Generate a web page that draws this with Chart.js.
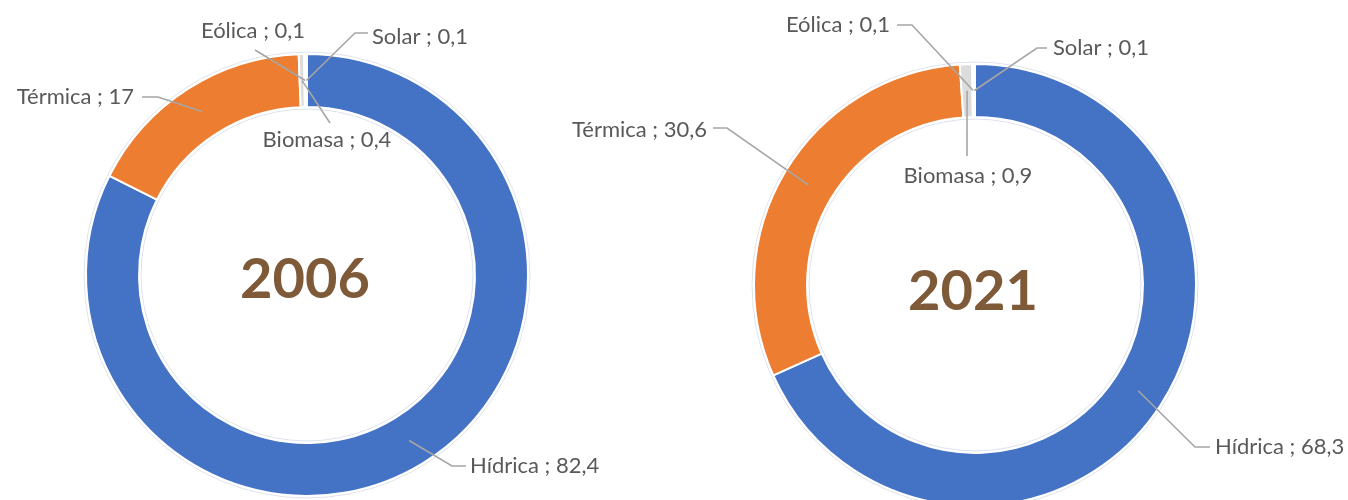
<!DOCTYPE html>
<html lang="es">
<head>
<meta charset="utf-8">
<title>Matriz eléctrica 2006 / 2021</title>
<script src="https://cdn.jsdelivr.net/npm/chart.js@4.4.1/dist/chart.umd.min.js"></script>
<style>
    html, body { margin: 0; padding: 0; background: #fff; overflow: hidden; }
    .wrap { position: relative; width: 1348px; height: 500px; }
    .wrap canvas { position: absolute; left: 0; top: 0; }
</style>
</head>
<body>
<div class="wrap">
    <canvas id="chart2006" width="1348" height="520"></canvas>
    <canvas id="chart2021" width="1348" height="520"></canvas>
</div>
<script>
// ==================== DATA ====================
const categories = ['Hídrica', 'Térmica', 'Biomasa', 'Eólica', 'Solar'];
const values2006 = [82.4, 17, 0.4, 0.1, 0.1];
const values2021 = [68.3, 30.6, 0.9, 0.1, 0.1];
const years = ['2006', '2021'];

const sliceColors = ['#4472C4', '#ED7D31', '#DCDCDC', '#A5A5A5', '#C8C8C8'];

// ==================== CALLOUT PLUGIN ====================
// Draws "Name ; value" labels with Excel-style leader lines that end
// in the middle of the ring at each slice's mid angle.
const fmt = v => String(v).replace('.', ',');

const calloutPlugin = {
    id: 'callouts',
    beforeDatasetsDraw(chart) {
        // faint halo around the ring edges
        const arc = chart.getDatasetMeta(0).data[0];
        if (!arc) return;
        const ctx = chart.ctx;
        ctx.save();
        ctx.strokeStyle = '#dde3ec';
        ctx.lineWidth = 1;
        [arc.outerRadius + 2, arc.innerRadius - 2].forEach(r => {
            ctx.beginPath();
            ctx.arc(arc.x, arc.y, r, 0, Math.PI * 2);
            ctx.stroke();
        });
        ctx.restore();
    },
    afterDatasetsDraw(chart, args, opts) {
        const ctx = chart.ctx;
        const meta = chart.getDatasetMeta(0);
        const data = chart.data.datasets[0].data;
        ctx.save();

        // leader lines
        ctx.strokeStyle = '#A6A6A6';
        ctx.lineWidth = 1.6;
        meta.data.forEach((el, i) => {
            const spot = opts.spots[i];
            if (!spot) return;
            const mid = (el.startAngle + el.endAngle) / 2;
            const r = (el.innerRadius + el.outerRadius) / 2;
            ctx.beginPath();
            spot.line.forEach((p, k) => k ? ctx.lineTo(p[0], p[1]) : ctx.moveTo(p[0], p[1]));
            ctx.lineTo(el.x + Math.cos(mid) * r, el.y + Math.sin(mid) * r);
            ctx.stroke();
        });

        // label text
        ctx.fillStyle = '#595959';
        ctx.font = '22px Lato, "Open Sans", sans-serif';
        ctx.textBaseline = 'middle';
        meta.data.forEach((el, i) => {
            const spot = opts.spots[i];
            if (!spot) return;
            ctx.textAlign = spot.align;
            ctx.fillText(`${chart.data.labels[i]} ; ${fmt(data[i])}`, spot.x, spot.y);
        });

        // year in the hole
        const arc = meta.data[0];
        ctx.fillStyle = '#7E5A38';
        ctx.font = 'bold 56px Lato, "Open Sans", sans-serif';
        ctx.textAlign = 'center';
        ctx.fillText(opts.year, arc.x + opts.yearDx, arc.y + opts.yearDy);
        ctx.restore();
    }
};

// ==================== CHARTS ====================
function makeDonut(canvasId, values, year, padding, spots, yearDx, yearDy) {
    return new Chart(document.getElementById(canvasId), {
        type: 'doughnut',
        data: {
            labels: categories,
            datasets: [{
                data: values,
                backgroundColor: sliceColors,
                borderColor: '#ffffff',
                borderWidth: 2,
            }]
        },
        options: {
            responsive: false,
            animation: false,
            cutout: '76%',
            layout: { padding },
            plugins: {
                legend: { display: false },
                tooltip: { enabled: false },
                callouts: { spots, year, yearDx, yearDy }
            }
        },
        plugins: [calloutPlugin]
    });
}

// label anchors and leader-line bends, per slice (same order as categories)
makeDonut('chart2006', values2006, years[0],
    { left: 85, top: 53, right: 819, bottom: 23 },
    [
        { x: 470, y: 466, align: 'left',   line: [[466, 466], [452, 466]] },
        { x: 134, y: 97,  align: 'right',  line: [[142, 97], [158, 97]] },
        { x: 327, y: 140, align: 'center', line: [[330, 123]] },
        { x: 253, y: 31,  align: 'center', line: [[255, 50]] },
        { x: 372, y: 37,  align: 'left',   line: [[368, 33], [355, 33]] },
    ], -2, 5);

makeDonut('chart2021', values2021, years[1],
    { left: 753, top: 63, right: 151, bottom: 13 },
    [
        { x: 1215, y: 447, align: 'left',   line: [[1210, 447], [1195, 447]] },
        { x: 707,  y: 130, align: 'right',  line: [[713, 128], [727, 128]] },
        { x: 968,  y: 176, align: 'center', line: [[967, 156]] },
        { x: 890,  y: 25,  align: 'right',  line: [[897, 25], [912, 25]] },
        { x: 1053, y: 48,  align: 'left',   line: [[1047, 48], [1037, 48]] },
    ], -2, 7);
</script>
</body>
</html>
